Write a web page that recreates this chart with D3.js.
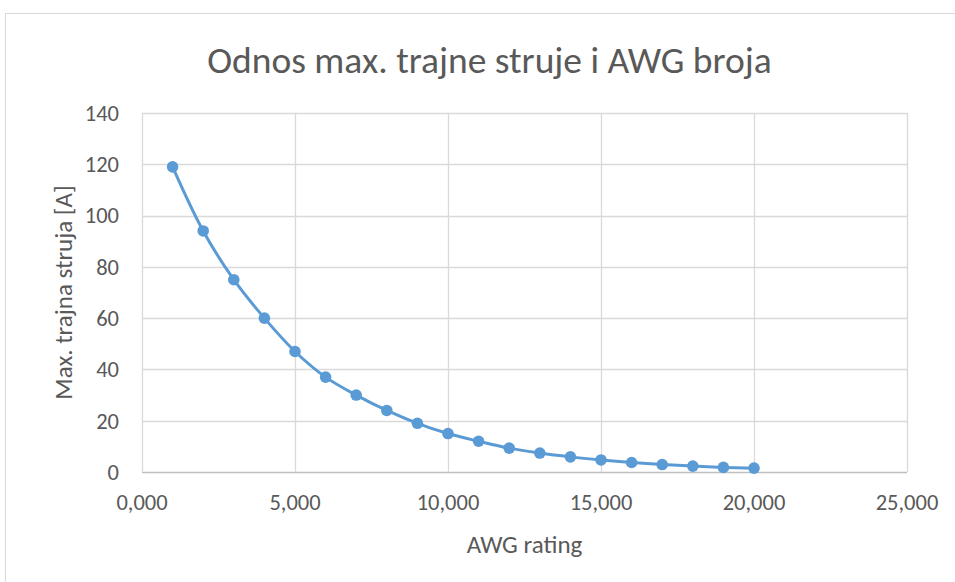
<!DOCTYPE html>
<html><head><meta charset="utf-8">
<script src="https://cdn.jsdelivr.net/npm/d3@7"></script>
<style>body{margin:0;background:#fff}svg{display:block}</style>
</head><body>
<script>
const awg = [1,2,3,4,5,6,7,8,9,10,11,12,13,14,15,16,17,18,19,20];
const current = [119,94,75,60,47,37,30,24,19,15,12,9.3,7.4,5.9,4.7,3.7,2.9,2.3,1.8,1.5];
const xTicks = [0,5000,10000,15000,20000,25000];
const xTickLabels = ["0,000","5,000","10,000","15,000","20,000","25,000"];
const yTicks = [0,20,40,60,80,100,120,140];
const title = "Odnos max. trajne struje i AWG broja";
const xTitle = "AWG rating";
const yTitle = "Max. trajna struja [A]";

const W = 955, H = 582;
const m = {left:142, right:907, top:113, bottom:472};
const svg = d3.select("body").append("svg").attr("width",W).attr("height",H);
svg.append("rect").attr("x",5.5).attr("y",13.5).attr("width",W).attr("height",H)
  .attr("fill","#fff").attr("stroke","#d9d9d9");

const x = d3.scaleLinear().domain([0,25]).range([m.left,m.right]);
const y = d3.scaleLinear().domain([0,140]).range([m.bottom,m.top]);
const font = "Carlito, 'Liberation Sans Narrow', 'Open Sans', sans-serif";
const tc = "#595959";

const g = svg.append("g");
g.selectAll(".hg").data(yTicks).join("line")
  .attr("x1",m.left).attr("x2",m.right).attr("y1",d=>Math.round(y(d))+0.5).attr("y2",d=>Math.round(y(d))+0.5)
  .attr("stroke",d=>d===0?"#bfbfbf":"#d9d9d9").attr("stroke-width",1.3);
g.selectAll(".vg").data(xTicks).join("line")
  .attr("y1",m.top).attr("y2",m.bottom).attr("x1",d=>Math.round(x(d/1000))+0.5).attr("x2",d=>Math.round(x(d/1000))+0.5)
  .attr("stroke","#d9d9d9").attr("stroke-width",1.3);

g.selectAll(".yl").data(yTicks).join("text")
  .attr("x",m.left-23).attr("y",d=>y(d)).attr("dy","0.35em").attr("text-anchor","end")
  .attr("font-family",font).attr("font-size",22.5).attr("fill",tc).text(d=>d);
g.selectAll(".xl").data(xTicks).join("text")
  .attr("x",d=>x(d/1000)).attr("y",502).attr("dy","0.35em").attr("text-anchor","middle")
  .attr("font-family",font).attr("font-size",22.5).attr("fill",tc).text((d,i)=>xTickLabels[i]);

svg.append("text").attr("x",(m.left+m.right)/2 - 35).attr("y",60).attr("dy","0.35em").attr("text-anchor","middle")
  .attr("font-family",font).attr("font-size",37.5).attr("fill",tc).text(title);
svg.append("text").attr("x",(m.left+m.right)/2).attr("y",544).attr("dy","0.35em").attr("text-anchor","middle")
  .attr("font-family",font).attr("font-size",25).attr("fill",tc).text(xTitle);
svg.append("text").attr("transform",`translate(63,${(m.top+m.bottom)/2}) rotate(-90)`).attr("dy","0.35em").attr("text-anchor","middle")
  .attr("font-family",font).attr("font-size",25).attr("fill",tc).text(yTitle);

const data = awg.map((a,i)=>({a, c:current[i]}));
const line = d3.line().x(d=>x(d.a)).y(d=>y(d.c)).curve(d3.curveCatmullRom.alpha(0.5));
svg.append("path").datum(data).attr("d",line).attr("fill","none").attr("stroke","#5b9bd5").attr("stroke-width",3);
svg.selectAll(".pt").data(data).join("circle").attr("cx",d=>x(d.a)).attr("cy",d=>y(d.c)).attr("r",5.8).attr("fill","#5b9bd5");
</script>
</body></html>
